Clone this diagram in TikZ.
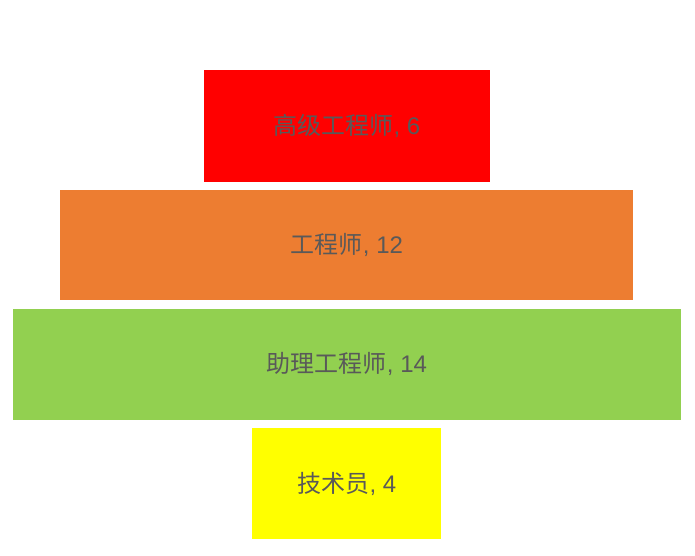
\documentclass[tikz,border=0pt]{standalone}
\usepackage{fontspec}
\setmainfont{Liberation Sans}
\newfontfamily\cjk{Noto Sans CJK SC}
\definecolor{txt}{HTML}{595959}
\definecolor{cred}{HTML}{FF0000}
\definecolor{corange}{HTML}{ED7D31}
\definecolor{cgreen}{HTML}{92D050}
\definecolor{cyellow}{HTML}{FFFF00}
\begin{document}
\begin{tikzpicture}[x=1pt,y=-1pt,
  bar/.style={draw=none,inner sep=0pt,text=txt,font=\fontsize{24}{28}\selectfont}]
\useasboundingbox (0,0) rectangle (695,556);
\fill[cred] (204,70) rectangle (490,182);
\fill[corange] (60,190) rectangle (633,300);
\fill[cgreen] (13,309) rectangle (681,420);
\fill[cyellow] (252,428) rectangle (441,539);
\node[bar] (a) at (347,126) {{\cjk 高级工程师}, 6};
\node[bar] (b) at (347,245) {{\cjk 工程师}, 12};
\node[bar] (c) at (347,364) {{\cjk 助理工程师}, 14};
\node[bar] (d) at (347,484) {{\cjk 技术员}, 4};
\end{tikzpicture}
\end{document}
